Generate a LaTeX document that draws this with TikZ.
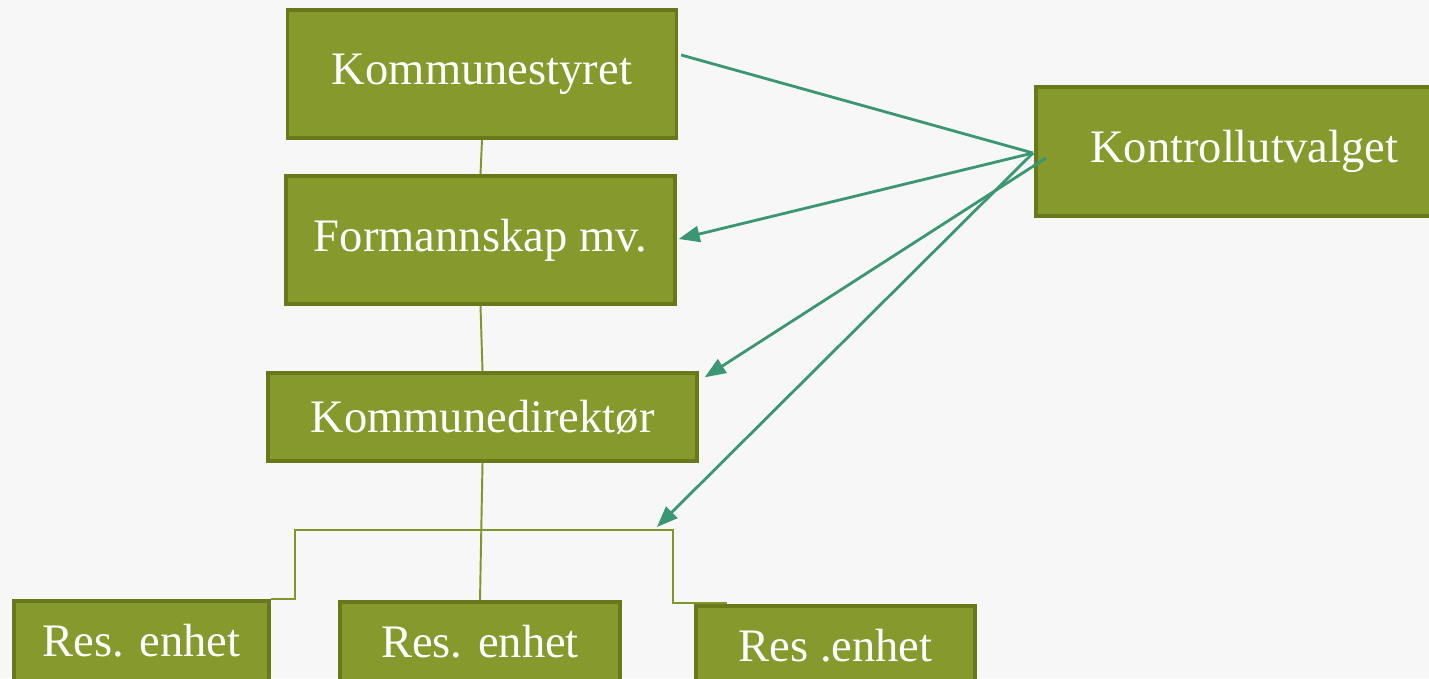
\documentclass[tikz,border=0pt]{standalone}
\usepackage{fontspec}
\setmainfont{Liberation Serif}
\usetikzlibrary{arrows.meta,calc}
\definecolor{boxfill}{RGB}{133,153,44}
\definecolor{boxline}{RGB}{104,120,26}
\definecolor{linkline}{RGB}{128,150,40}
\definecolor{ctrlline}{RGB}{58,150,115}
\definecolor{paper}{RGB}{247,247,247}
\tikzstyle{block} = [align=center,draw=boxline,fill=boxfill,rectangle,text=white,line width=1.9pt,inner sep=0pt,font=\fontsize{26.5}{31}\selectfont]
\tikzstyle{link} = [draw=linkline,line width=1.1pt]
\tikzstyle{ctrl} = [draw=ctrlline,line width=1.6pt]
\tikzstyle{ctrlarrow} = [ctrl,-{Triangle[length=0.42cm,width=0.32cm]}]

\begin{document}
\begin{tikzpicture}
				\fill [paper] (0,0) rectangle (28.58,-13.56);
				\useasboundingbox (0,0) rectangle (28.58,-13.56);
				\node (styret) [block,minimum width=7.78cm,minimum height=2.56cm] at (9.64,-1.48) {Kommunestyret};
				\node (formsk) [block,minimum width=7.78cm,minimum height=2.56cm] at (9.61,-4.80) {Formannskap mv.};
				\node (dir) [block,minimum width=8.58cm,minimum height=1.76cm] at (9.65,-8.34) {Kommunedirektør};
				\node (kontr) [block,minimum width=8.32cm,minimum height=2.58cm] at (24.88,-3.03) {Kontrollutvalget};
				\node (res1) [block,minimum width=5.10cm,minimum height=1.60cm] at (2.83,-12.82) {Res. enhet};
				\node (res2) [block,minimum width=5.60cm,minimum height=1.60cm] at (9.60,-12.84) {Res. enhet};
				\node (res3) [block,minimum width=5.58cm,minimum height=1.60cm] at (16.71,-12.92) {Res .enhet};
				\coordinate (barl) at (5.90,-10.60);
				\coordinate (barr) at (13.46,-10.60);
				\coordinate (r3end) at (14.54,-12.06);
				\coordinate (src) at (20.66,-3.06);
				\coordinate (src2) at (20.92,-3.16);
				\draw [link] (styret.south) -- (formsk.north);
				\draw [link] (formsk.south) -- (dir.north);
				\draw [link] (dir.south) -- (res2.north);
				\draw [link] (res1.north east) -- (barl |- res1.north east) -- (barl) -- (barr) -- (barr |- r3end) -- (r3end);
				\draw [ctrl] (src) -- ($(styret.east)+(0.06,0.38)$);
				\draw [ctrlarrow] (src) -- ($(formsk.east)+(0.04,0.02)$);
				\draw [ctrlarrow] (src2) -- ($(dir.north east)+(0.12,-0.12)$);
				\draw [ctrlarrow] (src) -- ($(barr)+(-0.32,0.06)$);
			\end{tikzpicture}
\end{document}
